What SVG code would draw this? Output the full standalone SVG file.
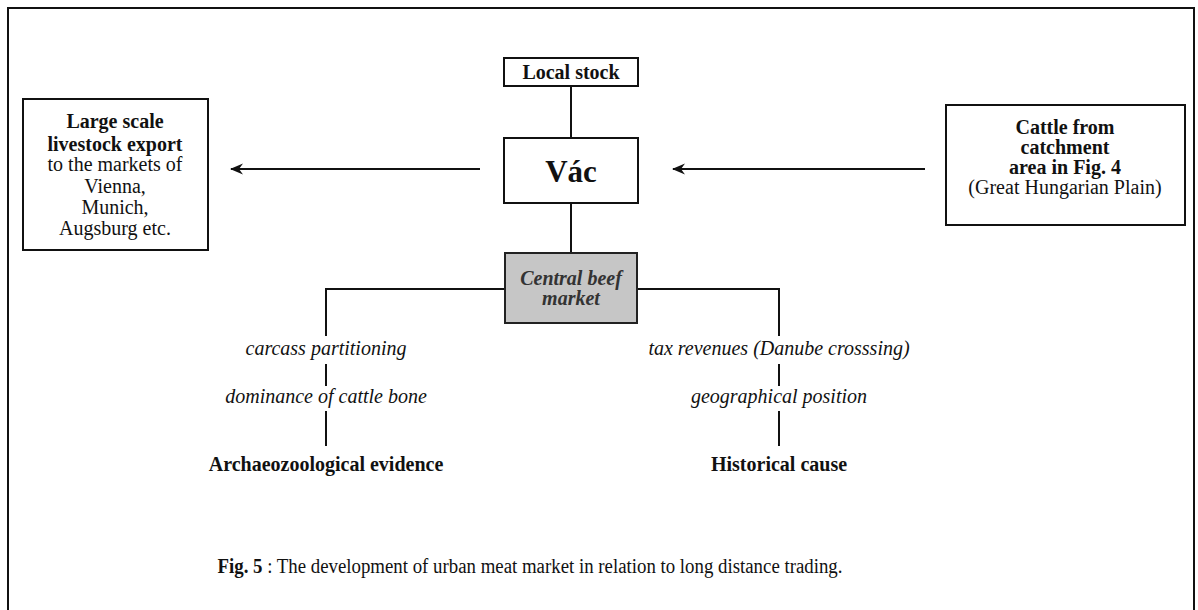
<svg xmlns="http://www.w3.org/2000/svg" width="1198" height="610" viewBox="0 0 1198 610">
<style>
text{font-family:"Liberation Serif","Times New Roman",serif;font-size:20px;fill:#111;text-anchor:middle}
.b{font-weight:bold}
.i{font-style:italic}
.box{fill:#fff;stroke:#111;stroke-width:2}
.ln{fill:none;stroke:#111;stroke-width:2}
</style>
<defs>
<marker id="ah" markerWidth="15" markerHeight="12" refX="13" refY="6" orient="auto" markerUnits="userSpaceOnUse">
<path d="M14,6 L1,0.5 L5,6 L1,11.5 Z" fill="#111"/>
</marker>
</defs>
<rect width="1198" height="610" fill="#fff"/>
<path d="M8,610 V8 H1194 V610" fill="none" stroke="#111" stroke-width="2"/>
<g id="connectors">
<line class="ln" x1="571" y1="86" x2="571" y2="138"/>
<line class="ln" x1="571" y1="203" x2="571" y2="253"/>
<line class="ln" x1="480" y1="169" x2="231" y2="169" marker-end="url(#ah)"/>
<line class="ln" x1="925" y1="169" x2="673" y2="169" marker-end="url(#ah)"/>
<polyline class="ln" points="505,289 326,289 326,336"/>
<line class="ln" x1="326" y1="364" x2="326" y2="386"/>
<line class="ln" x1="326" y1="411" x2="326" y2="446"/>
<polyline class="ln" points="637,289 779,289 779,336"/>
<line class="ln" x1="779" y1="364" x2="779" y2="386"/>
<line class="ln" x1="779" y1="411" x2="779" y2="446"/>
</g>
<g id="local-stock">
<rect class="box" x="504" y="58" width="134" height="28"/>
<text class="b" x="571" y="79">Local stock</text>
</g>
<g id="vac">
<rect class="box" x="504" y="138" width="134" height="65"/>
<text class="b" x="571" y="182" style="font-size:31px">Vác</text>
</g>
<g id="central-beef-market">
<rect x="505" y="253" width="132" height="70" fill="#c6c6c6" stroke="#222" stroke-width="2"/>
<text class="b i" x="571" y="285" style="fill:#333">Central beef</text>
<text class="b i" x="571" y="305" style="fill:#333">market</text>
</g>
<g id="export">
<rect class="box" x="23" y="99" width="185" height="151"/>
<text class="b" x="115" y="128">Large scale</text>
<text class="b" x="115" y="151">livestock export</text>
<text x="115" y="171">to the markets of</text>
<text x="115" y="193">Vienna,</text>
<text x="115" y="214">Munich,</text>
<text x="115" y="235">Augsburg etc.</text>
</g>
<g id="cattle">
<rect class="box" x="946" y="105" width="239" height="120"/>
<text class="b" x="1065" y="134">Cattle from</text>
<text class="b" x="1065" y="154">catchment</text>
<text class="b" x="1065" y="174">area in Fig. 4</text>
<text x="1065" y="194">(Great Hungarian Plain)</text>
</g>
<g id="archaeo">
<text class="i" x="326" y="355">carcass partitioning</text>
<text class="i" x="326" y="403">dominance of cattle bone</text>
<text class="b" x="326" y="471">Archaeozoological evidence</text>
</g>
<g id="historical">
<text class="i" x="779" y="355">tax revenues (Danube crosssing)</text>
<text class="i" x="779" y="403">geographical position</text>
<text class="b" x="779" y="471">Historical cause</text>
</g>
<g id="caption">
<text x="530" y="573" textLength="625" lengthAdjust="spacingAndGlyphs"><tspan class="b">Fig.  5</tspan> : The development of urban meat market in relation to long distance trading.</text>
</g>
</svg>
